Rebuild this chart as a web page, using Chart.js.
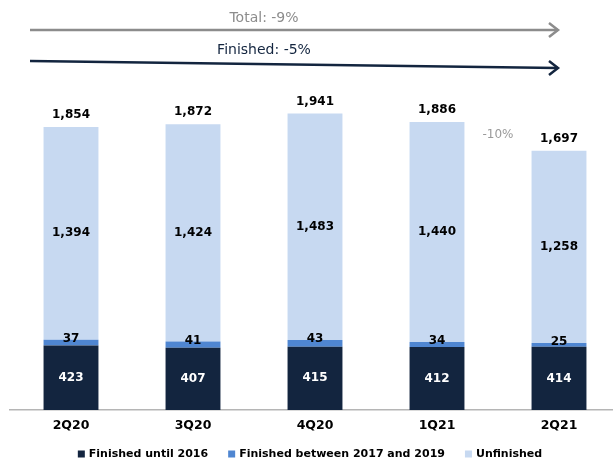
<!DOCTYPE html>
<html lang="en">
<head>
  <meta charset="UTF-8">
  <title>Finished vs unfinished</title>
  <script src="https://cdn.jsdelivr.net/npm/chart.js"></script>
  <style>
    html, body { margin: 0; padding: 0; overflow: hidden; background: #fff; }
    #wrap { width: 620px; height: 461px; }
  </style>
</head>
<body>
<div id="wrap">
  <canvas id="barChart"></canvas>
</div>

<script>
  const quarters = ['2Q20', '3Q20', '4Q20', '1Q21', '2Q21'];
  const finishedUntil2016 = [423, 407, 415, 412, 414];
  const finished2017to2019 = [37, 41, 43, 34, 25];
  const unfinished = [1394, 1424, 1483, 1440, 1258];
  const totals = [1854, 1872, 1941, 1886, 1697];
  const seriesNames = ['Finished until 2016', 'Finished between 2017 and 2019', 'Unfinished'];

  const navy = '#13253F';
  const midBlue = '#4F86D1';
  const lightBlue = '#C7D9F1';

  const fmt = v => v.toLocaleString('en-US');

  // value labels + arrows drawn on top
  const overlay = {
    id: 'overlay',
    afterDatasetsDraw(chart) {
      const ctx = chart.ctx;
      const x = chart.scales.x;
      const y = chart.scales.y;
      ctx.save();
      ctx.textAlign = 'center';
      ctx.textBaseline = 'middle';
      ctx.font = 'bold 12px "DejaVu Sans"';

      const m0 = chart.getDatasetMeta(0);
      const m1 = chart.getDatasetMeta(1);
      const m2 = chart.getDatasetMeta(2);
      quarters.forEach((q, i) => {
        const b0 = m0.data[i], b1 = m1.data[i], b2 = m2.data[i];
        ctx.fillStyle = '#fff';
        ctx.fillText(fmt(finishedUntil2016[i]), b0.x, (b0.y + b0.base) / 2);
        ctx.fillStyle = '#000';
        ctx.fillText(fmt(finished2017to2019[i]), b1.x, b1.y - 1);
        ctx.fillText(fmt(unfinished[i]), b2.x, (b2.y + b2.base) / 2);
        ctx.fillText(fmt(totals[i]), b2.x, b2.y - 12);
      });

      // -10% note
      ctx.font = '12px "DejaVu Sans"';
      ctx.fillStyle = '#9a9a9a';
      ctx.fillText('-10%', x.getPixelForValue(3.5), y.getPixelForValue(1800));

      const x0 = chart.chartArea.left + 20;
      const x1 = x.getPixelForValue(4) - 1;

      function arrow(yA, yB, color) {
        ctx.strokeStyle = color;
        ctx.lineWidth = 2.5;
        ctx.beginPath();
        ctx.moveTo(x0, yA);
        ctx.lineTo(x1, yB);
        ctx.stroke();
        ctx.beginPath();
        ctx.moveTo(x1 - 9, yB - 7);
        ctx.lineTo(x1, yB);
        ctx.lineTo(x1 - 9, yB + 7);
        ctx.stroke();
      }

      const gy = y.getPixelForValue(2488);
      arrow(gy, gy, '#8c8c8c');
      ctx.font = '14px "DejaVu Sans"';
      ctx.fillStyle = '#8c8c8c';
      ctx.fillText('Total: -9%', 264, gy - 12);

      arrow(y.getPixelForValue(2285), y.getPixelForValue(2240), navy);
      ctx.fillStyle = navy;
      ctx.fillText('Finished: -5%', 264, y.getPixelForValue(2285) - 11);

      // legend row under the axis
      ctx.font = 'bold 11px "DejaVu Sans"';
      ctx.textAlign = 'left';
      const colors = [navy, midBlue, lightBlue];
      const box = 7, gap = 4, spacing = 20;
      const widths = seriesNames.map(s => box + gap + ctx.measureText(s).width);
      const total = widths.reduce((a, b) => a + b, 0) + spacing * (seriesNames.length - 1);
      let lx = x.getPixelForValue(2) - 5 - total / 2;
      const ly = chart.chartArea.bottom + 44;
      seriesNames.forEach((s, i) => {
        ctx.fillStyle = colors[i];
        ctx.fillRect(lx, ly - box / 2, box, box);
        ctx.fillStyle = '#000';
        ctx.fillText(s, lx + box + gap, ly);
        lx += widths[i] + spacing;
      });
      ctx.restore();
    }
  };

  const config = {
    type: 'bar',
    data: {
      labels: quarters,
      datasets: [
        { label: seriesNames[0], data: finishedUntil2016, backgroundColor: navy },
        { label: seriesNames[1], data: finished2017to2019, backgroundColor: midBlue },
        { label: seriesNames[2], data: unfinished, backgroundColor: lightBlue }
      ]
    },
    options: {
      responsive: true,
      maintainAspectRatio: false,
      animation: false,
      datasets: {
        bar: { categoryPercentage: 1, barPercentage: 0.45 }
      },
      layout: { padding: { left: 10, right: 0, top: 0, bottom: 20 } },
      plugins: {
        tooltip: { enabled: false },
        legend: { display: false }
      },
      scales: {
        x: {
          stacked: true,
          grid: { display: false, drawTicks: false },
          border: { display: true, color: '#b5b5b5', width: 1.5 },
          ticks: {
            color: '#000',
            padding: 8,
            font: { family: 'DejaVu Sans', size: 12.5, weight: 'bold' }
          }
        },
        y: {
          stacked: true,
          display: false,
          min: 0,
          max: 2685
        }
      }
    },
    plugins: [overlay]
  };

  new Chart(document.getElementById('barChart'), config);
</script>
</body>
</html>
